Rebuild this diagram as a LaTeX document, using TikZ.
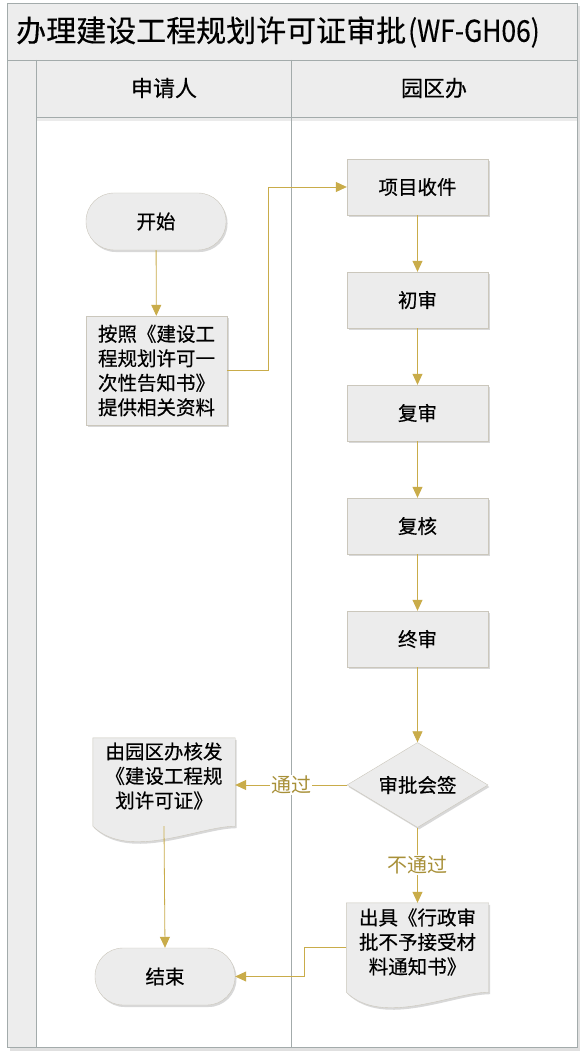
\documentclass[tikz,border=0pt]{standalone}
\usepackage{fontspec}
\setmainfont{Noto Sans CJK SC}
\newfontfamily\cjkbold[FakeBold=0.4]{Noto Sans CJK SC}
\usetikzlibrary{shapes.geometric,arrows.meta,shadows}
\definecolor{gold}{HTML}{C9AC4A}
\definecolor{goldtxt}{HTML}{A89038}
\definecolor{nodefill}{HTML}{ECECEC}
\definecolor{nodeedge}{HTML}{CBC7BC}
\definecolor{framec}{HTML}{A3ABAB}
\definecolor{barfill}{HTML}{EDEDED}
\begin{document}
\begin{tikzpicture}[x=1pt,y=-1pt,
  shd/.style={drop shadow={shadow xshift=1.5pt,shadow yshift=-2pt,opacity=0.25,fill=black!60}},
  nodefont/.style={font=\cjkbold\fontsize{19.5}{24.5}\selectfont},
  box/.style={draw=nodeedge,fill=nodefill,shd,nodefont,minimum width=141pt,minimum height=56pt,inner sep=2pt,align=center},
  term/.style={box,rounded corners=28pt,minimum width=140pt,minimum height=57pt},
  decide/.style={diamond,draw=nodeedge,fill=nodefill,shd,nodefont,minimum width=141pt,minimum height=85pt,aspect=1.66,inner sep=0pt},
  doctext/.style={nodefont,align=center,minimum width=142pt,inner sep=0pt},
  docshape/.style={draw=nodeedge,fill=nodefill,shd},
  arr/.style={draw=gold,line width=0.8pt,-{Triangle[width=10pt,length=11pt]}},
  lbl/.style={font=\fontsize{20}{24}\selectfont,text=goldtxt,fill=white,inner sep=1pt},
  hdr/.style={font=\cjkbold\fontsize{22}{26}\selectfont},
  frame/.style={draw=framec,line width=0.8pt}]
\useasboundingbox (0,0) rectangle (583,1059);
% swimlane frame
\fill[black!12] (10,6) rectangle (580,1051);
\fill[barfill] (7,3) rectangle (577,60);
\fill[barfill] (7,60) rectangle (36,1047);
\fill[barfill] (36,60) rectangle (577,117);
\fill[white] (36,117) rectangle (577,1047);
\fill[black!8] (36,117.5) rectangle (577,121);
\draw[frame] (7,3) rectangle (577,1047);
\draw[frame] (7,60) -- (577,60);
\draw[frame] (36,60) -- (36,1047);
\draw[frame] (36,117) -- (577,117);
\draw[frame] (291,60) -- (291,1047);
% titles
\node[anchor=west,font=\cjkbold\fontsize{30}{36}\selectfont,inner sep=0pt] (title) at (16,32) {办理建设工程规划许可证审批\kern2pt\scalebox{0.88}[1]{(WF-GH06)}};
\node[hdr] (lane1) at (164,88) {申请人};
\node[hdr] (lane2) at (434,88) {园区办};
% nodes
\node[term] (start) at (156,221.5) {开始};
\node[box,minimum width=141pt,minimum height=109pt] (apply) at (156.5,370.5) {按照《建设工\\程规划许可一\\次性告知书》\\提供相关资料};
\node[box] (recv) at (417.5,187) {项目收件};
\node[box] (r1) at (417.5,300) {初审};
\node[box] (r2) at (417.5,413) {复审};
\node[box] (r3) at (417.5,526) {复核};
\node[box] (r4) at (417.5,639) {终审};
\node[decide] (sign) at (417.5,785) {审批会签};
% document shapes
\path (164,776) node[doctext,minimum height=76pt] (doc1) {};
\draw[docshape] (doc1.north west) -- (doc1.north east) -- ([yshift=-12pt]doc1.south east)
  .. controls ([yshift=-12pt,xshift=35pt]doc1.south) and ([yshift=-47pt,xshift=-35pt]doc1.south) .. ([yshift=-12pt]doc1.south west) -- cycle;
\node[doctext] at (doc1) {由园区办核发\\《建设工程规\\划许可证》};
\path (417.5,942) node[doctext,minimum height=78pt] (doc2) {};
\draw[docshape] (doc2.north west) -- (doc2.north east) -- ([yshift=-11pt]doc2.south east)
  .. controls ([yshift=-11pt,xshift=35pt]doc2.south) and ([yshift=-46pt,xshift=-35pt]doc2.south) .. ([yshift=-11pt]doc2.south west) -- cycle;
\node[doctext] at (doc2) {出具《行政审\\批不予接受材\\料通知书》};
\node[term] (end) at (165,976.5) {结束};
% connectors
\draw[arr] (start) -- (apply);
\coordinate (j1) at ([xshift=41pt]apply.east);
\draw[arr] (apply.east) -- (j1) |- (recv.west);
\draw[arr] (recv) -- (r1);
\draw[arr] (r1) -- (r2);
\draw[arr] (r2) -- (r3);
\draw[arr] (r3) -- (r4);
\draw[arr] (r4) -- (sign);
\draw[arr] (sign.west) -- (doc1.east |- sign.west) node[lbl,pos=0.5] {通过};
\draw[arr] (sign.south) -- (doc2.north) node[lbl,pos=0.5] {不通过};
\draw[arr] ([yshift=-12pt]doc1.south) -- (end.north);
\coordinate (j2) at ([xshift=-42pt,yshift=-5pt]doc2.west);
\draw[arr] ([yshift=-5pt]doc2.west) -- (j2) |- (end.east);
\end{tikzpicture}
\end{document}
